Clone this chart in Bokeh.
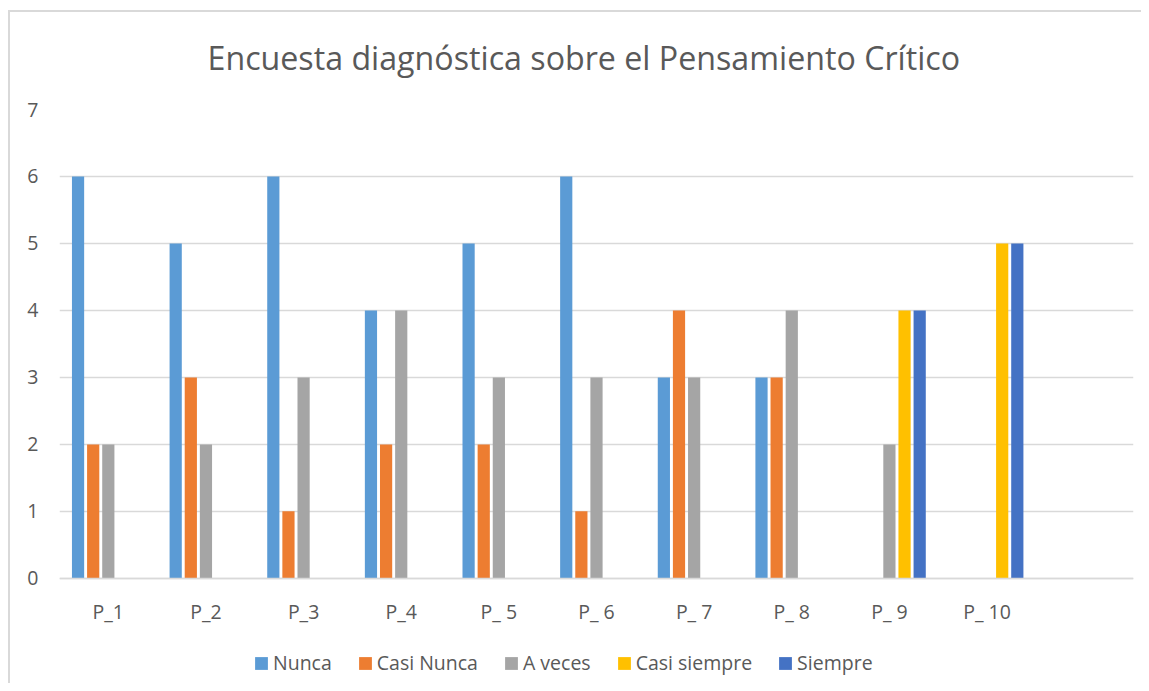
from bokeh.plotting import figure
from bokeh.models import FactorRange, Range1d, Legend, LegendItem, FixedTicker, ColumnDataSource
from bokeh.transform import dodge
from bokeh.embed import file_html
from bokeh.resources import INLINE

categories = ["P_1", "P_2", "P_3", "P_4", "P_ 5", "P_ 6", "P_ 7", "P_ 8", "P_ 9", "P_ 10"]
nunca = [6, 5, 6, 4, 5, 6, 3, 3, 0, 0]
casi_nunca = [2, 3, 1, 2, 2, 1, 4, 3, 0, 0]
a_veces = [2, 2, 3, 4, 3, 3, 3, 4, 2, 0]
casi_siempre = [0, 0, 0, 0, 0, 0, 0, 0, 4, 5]
siempre = [0, 0, 0, 0, 0, 0, 0, 0, 4, 5]
series_names = ["Nunca", "Casi Nunca", "A veces", "Casi siempre", "Siempre"]
series_values = [nunca, casi_nunca, a_veces, casi_siempre, siempre]
colors = ["#5B9BD5", "#ED7D31", "#A5A5A5", "#FFC000", "#4472C4"]
y_ticks = [0, 1, 2, 3, 4, 5, 6, 7]
title_text = "Encuesta diagnóstica sobre el Pensamiento Crítico"

FONT = "Open Sans"
TXT = "#595959"
GRID = "#D9D9D9"

data = {"x": categories}
for name, vals in zip(series_names, series_values):
    data[name] = vals
src = ColumnDataSource(data)

factors = categories + [" "]
# the frame reaches down to the legend; the value axis shows 0..7 only
p = figure(x_range=FactorRange(factors=factors), y_range=Range1d(-1.57, 7),
           width=1141, height=683, output_backend="svg", toolbar_location=None,
           min_border_left=59, min_border_right=8, min_border_top=109, min_border_bottom=0)
p.border_fill_alpha = 0
p.styles = {"box-shadow": "inset 8px 10px 0 0 #FFFFFF, inset 10px 12px 0 0 #D9D9D9"}

p.title.text = title_text
p.title.align = "left"
p.title.offset = 148
p.title.text_font = FONT
p.title.text_font_size = "32.2px"
p.title.text_font_style = "normal"
p.title.text_color = TXT
p.title.standoff = 61

w = 0.125
step = 0.155
renderers = []
for i, (name, col) in enumerate(zip(series_names, colors)):
    off = (i - 2) * step
    r = p.vbar(x=dodge("x", off, range=p.x_range), top=name, width=w, source=src,
               fill_color=col, line_color=None)
    renderers.append(r)

p.outline_line_color = None
p.xgrid.grid_line_color = None
p.ygrid.grid_line_color = GRID
p.ygrid.grid_line_width = 1.5
p.yaxis.ticker = FixedTicker(ticks=y_ticks)
p.yaxis.axis_line_color = None
p.yaxis.major_tick_line_color = None
p.yaxis.minor_tick_line_color = None
p.yaxis.major_tick_out = 0
p.yaxis.major_tick_in = 0
p.yaxis.major_label_standoff = 21
p.xaxis.fixed_location = 0
p.xaxis.axis_line_color = GRID
p.xaxis.axis_line_width = 1.5
p.xaxis.major_tick_line_color = None
p.xaxis.minor_tick_line_color = None
p.xaxis.major_tick_out = 0
p.xaxis.major_tick_in = 0
p.xaxis.major_label_standoff = 20
for ax in (p.xaxis[0], p.yaxis[0]):
    ax.major_label_text_font = FONT
    ax.major_label_text_font_size = "19.5px"
    ax.major_label_text_color = TXT

legend = Legend(items=[LegendItem(label=n, renderers=[r]) for n, r in zip(series_names, renderers)],
                orientation="horizontal", location=(194, 7),
                glyph_width=16, glyph_height=16, label_standoff=4, spacing=25,
                padding=0, margin=0,
                label_text_font=FONT, label_text_font_size="19.5px", label_text_color=TXT,
                background_fill_alpha=0, border_line_color=None)
p.add_layout(legend)

open("out.html", "w").write(file_html(p, INLINE))
